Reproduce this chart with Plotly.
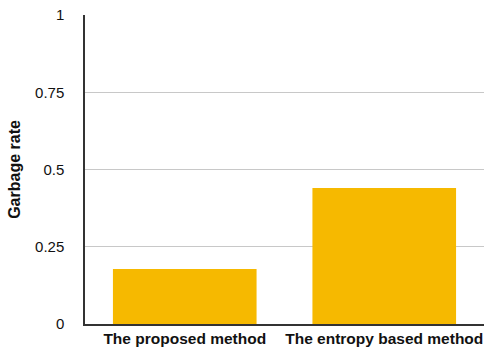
import plotly.graph_objects as go

categories = ["The proposed method", "The entropy based method"]
values = [0.178, 0.44]
y_ticks = [0, 0.25, 0.5, 0.75, 1]
y_tick_labels = ["0", "0.25", "0.5", "0.75", "1"]

fig = go.Figure(go.Bar(x=categories, y=values, marker=dict(color="#F6B900", line=dict(width=0)), width=0.72))

fig.update_layout(
    width=485, height=347,
    margin=dict(l=85, r=1, t=15, b=23),
    paper_bgcolor="white", plot_bgcolor="white",
    font=dict(family="Liberation Sans, Arial, Helvetica, sans-serif", color="#111", size=15),
    showlegend=False,
    bargap=0.28,
)
fig.update_yaxes(
    range=[0, 1], tickvals=y_ticks, ticktext=y_tick_labels,
    showgrid=True, gridcolor="#c8c8c8", gridwidth=1,
    showline=True, linecolor="#333", linewidth=1.5,
    ticks="outside", ticklen=16, tickcolor="rgba(0,0,0,0)",
    tickfont=dict(size=15),
    zeroline=False, automargin=False,
    title=dict(text="<b>Garbage rate</b>", font=dict(size=16), standoff=10),
)
fig.update_xaxes(
    showline=True, linecolor="#333", linewidth=1.5,
    ticks="", tickfont=dict(size=15.5), automargin=False,
    tickprefix="<b>", ticksuffix="</b>",
)
fig.write_html("out.html")
